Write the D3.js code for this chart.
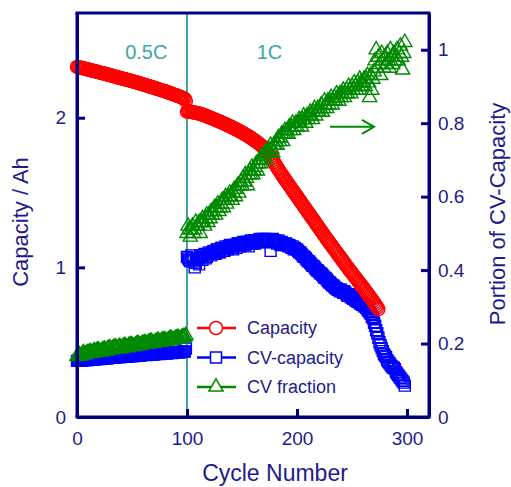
<!DOCTYPE html>
<html><head><meta charset="utf-8">
<script src="https://cdn.jsdelivr.net/npm/d3@7"></script>
<style>
html,body{margin:0;padding:0;background:#fff;}
svg{display:block;font-family:"Liberation Sans",Arial,sans-serif;}
</style></head>
<body>
<svg id="chart" width="511" height="487"></svg>
<script>
// ---------------- data ----------------
const cycles05 = d3.range(0, 100);       // 0.5C cycles 0..99
const cycles1 = d3.range(100, 299);      // 1C cycles 100..298
const capCycles1 = d3.range(100, 275);   // 1C cycles with capacity 100..274

const capacity05 = [
 2.340,2.338,2.336,2.335,2.334,2.331,2.329,2.328,2.327,2.324,
 2.322,2.321,2.319,2.316,2.314,2.313,2.312,2.309,2.307,2.306,
 2.304,2.301,2.299,2.298,2.297,2.294,2.292,2.290,2.289,2.286,
 2.284,2.283,2.281,2.278,2.276,2.275,2.273,2.270,2.268,2.267,
 2.265,2.262,2.260,2.259,2.257,2.254,2.252,2.251,2.249,2.246,
 2.244,2.243,2.241,2.238,2.236,2.234,2.232,2.229,2.227,2.225,
 2.223,2.220,2.218,2.216,2.214,2.211,2.209,2.207,2.205,2.202,
 2.200,2.198,2.196,2.193,2.191,2.188,2.186,2.183,2.181,2.179,
 2.177,2.174,2.172,2.169,2.166,2.164,2.161,2.158,2.156,2.153,
 2.150,2.148,2.145,2.142,2.139,2.136,2.133,2.130,2.126,2.112];
const capacity1 = [
 2.040,2.043,2.045,2.041,2.038,2.037,2.036,2.034,2.033,2.031,
 2.030,2.028,2.026,2.023,2.021,2.018,2.016,2.013,2.010,2.006,
 2.003,2.001,1.998,1.995,1.992,1.989,1.986,1.982,1.979,1.976,
 1.973,1.970,1.967,1.963,1.960,1.957,1.953,1.950,1.946,1.943,
 1.940,1.936,1.932,1.929,1.925,1.921,1.917,1.914,1.910,1.905,
 1.901,1.897,1.893,1.888,1.884,1.880,1.875,1.871,1.866,1.861,
 1.856,1.851,1.846,1.841,1.835,1.829,1.823,1.818,1.812,1.805,
 1.798,1.790,1.782,1.772,1.762,1.751,1.740,1.728,1.716,1.704,
 1.692,1.680,1.668,1.657,1.645,1.634,1.622,1.611,1.600,1.590,
 1.579,1.569,1.558,1.548,1.537,1.527,1.516,1.506,1.495,1.485,
 1.474,1.464,1.453,1.443,1.432,1.422,1.411,1.401,1.390,1.380,
 1.369,1.359,1.348,1.338,1.327,1.317,1.306,1.296,1.285,1.275,
 1.264,1.254,1.243,1.233,1.222,1.212,1.201,1.191,1.181,1.171,
 1.160,1.150,1.140,1.130,1.120,1.110,1.100,1.090,1.080,1.070,
 1.060,1.050,1.040,1.030,1.020,1.010,1.000,0.990,0.980,0.971,
 0.961,0.952,0.942,0.933,0.923,0.914,0.904,0.895,0.885,0.876,
 0.866,0.856,0.846,0.836,0.826,0.816,0.806,0.796,0.786,0.776,
 0.765,0.754,0.743,0.732,0.720];

const cvCap05 = [
 0.375,0.377,0.378,0.376,0.376,0.379,0.380,0.381,0.382,0.380,
 0.381,0.383,0.384,0.385,0.386,0.384,0.385,0.387,0.388,0.389,
 0.390,0.388,0.389,0.391,0.392,0.393,0.394,0.392,0.393,0.395,
 0.396,0.397,0.398,0.396,0.397,0.399,0.400,0.401,0.402,0.400,
 0.401,0.403,0.404,0.405,0.405,0.403,0.404,0.406,0.407,0.408,
 0.409,0.407,0.408,0.410,0.411,0.412,0.413,0.411,0.412,0.414,
 0.415,0.416,0.416,0.414,0.415,0.417,0.418,0.419,0.420,0.418,
 0.419,0.421,0.422,0.423,0.423,0.421,0.422,0.424,0.425,0.426,
 0.427,0.425,0.426,0.428,0.429,0.430,0.430,0.428,0.429,0.431,
 0.432,0.433,0.434,0.432,0.433,0.435,0.436,0.437,0.438,0.458];
const cvCap1 = [
 1.07,1.06,1.05,1.04,1.08,1.06,1.04,1.00,1.03,1.06,
 1.06,1.02,1.08,1.07,1.05,1.08,1.09,1.06,1.07,1.09,
 1.10,1.09,1.08,1.10,1.11,1.09,1.09,1.12,1.12,1.10,
 1.10,1.13,1.13,1.11,1.11,1.14,1.13,1.12,1.14,1.15,
 1.14,1.13,1.12,1.15,1.15,1.13,1.16,1.16,1.14,1.15,
 1.16,1.17,1.16,1.15,1.17,1.17,1.14,1.16,1.18,1.16,
 1.17,1.18,1.16,1.18,1.18,1.17,1.19,1.17,1.18,1.19,
 1.17,1.18,1.19,1.18,1.17,1.18,1.11,1.18,1.19,1.17,
 1.18,1.17,1.16,1.18,1.17,1.15,1.17,1.16,1.16,1.15,
 1.16,1.15,1.14,1.15,1.14,1.13,1.14,1.12,1.13,1.12,
 1.12,1.11,1.10,1.10,1.09,1.08,1.07,1.07,1.06,1.05,
 1.04,1.04,1.03,1.02,1.01,1.01,1.00,0.99,0.98,0.98,
 0.97,0.96,0.96,0.95,0.94,0.93,0.93,0.92,0.91,0.90,
 0.90,0.89,0.88,0.88,0.87,0.86,0.86,0.85,0.85,0.84,
 0.85,0.84,0.83,0.84,0.83,0.82,0.81,0.82,0.81,0.80,
 0.80,0.79,0.79,0.78,0.78,0.77,0.77,0.76,0.76,0.75,
 0.75,0.74,0.74,0.73,0.72,0.71,0.70,0.69,0.67,0.66,
 0.63,0.61,0.58,0.56,0.53,0.50,0.48,0.46,0.44,0.42,
 0.41,0.40,0.38,0.37,0.36,0.35,0.34,0.33,0.33,0.32,
 0.30,0.29,0.28,0.27,0.26,0.25,0.24,0.23,0.21];

const cvFrac05 = [
 0.165,0.168,0.170,0.166,0.168,0.172,0.175,0.170,0.171,0.174,
 0.176,0.173,0.178,0.175,0.174,0.179,0.180,0.176,0.181,0.183,
 0.181,0.177,0.178,0.182,0.183,0.185,0.181,0.180,0.186,0.187,
 0.188,0.183,0.184,0.189,0.189,0.191,0.187,0.186,0.190,0.192,
 0.186,0.189,0.192,0.194,0.193,0.190,0.189,0.194,0.195,0.197,
 0.196,0.192,0.192,0.196,0.198,0.199,0.199,0.195,0.195,0.199,
 0.200,0.202,0.202,0.199,0.198,0.203,0.204,0.206,0.205,0.201,
 0.200,0.204,0.206,0.208,0.208,0.204,0.204,0.208,0.209,0.210,
 0.210,0.207,0.206,0.210,0.212,0.214,0.213,0.209,0.209,0.213,
 0.214,0.216,0.216,0.212,0.213,0.216,0.217,0.219,0.218,0.222];
const cvFrac1 = [
 0.50,0.52,0.51,0.49,0.51,0.52,0.50,0.51,0.53,0.52,
 0.52,0.53,0.50,0.53,0.54,0.53,0.52,0.54,0.55,0.53,
 0.55,0.54,0.56,0.55,0.56,0.57,0.55,0.57,0.58,0.56,
 0.57,0.58,0.59,0.57,0.59,0.60,0.58,0.59,0.60,0.61,
 0.60,0.59,0.61,0.62,0.60,0.62,0.63,0.61,0.63,0.64,
 0.63,0.65,0.64,0.66,0.65,0.63,0.66,0.67,0.66,0.68,
 0.66,0.67,0.68,0.69,0.67,0.69,0.70,0.69,0.71,0.70,
 0.71,0.72,0.70,0.72,0.73,0.72,0.74,0.73,0.72,0.74,
 0.74,0.75,0.74,0.76,0.75,0.76,0.77,0.75,0.77,0.78,
 0.77,0.78,0.77,0.79,0.78,0.79,0.80,0.78,0.79,0.80,
 0.79,0.80,0.81,0.80,0.79,0.81,0.82,0.81,0.80,0.82,
 0.81,0.82,0.83,0.82,0.81,0.83,0.84,0.82,0.83,0.84,
 0.83,0.84,0.85,0.83,0.84,0.86,0.85,0.84,0.86,0.85,
 0.86,0.87,0.85,0.86,0.87,0.86,0.88,0.87,0.86,0.88,
 0.87,0.88,0.89,0.87,0.88,0.89,0.88,0.90,0.89,0.88,
 0.90,0.89,0.91,0.90,0.89,0.91,0.90,0.92,0.91,0.90,
 0.91,0.92,0.90,0.92,0.93,0.91,0.87,0.93,0.89,0.92,
 0.94,0.97,1.00,0.95,0.98,0.96,0.93,0.99,0.97,0.95,
 0.98,0.96,0.99,0.97,0.95,1.00,0.98,0.96,0.99,0.97,
 0.98,1.00,0.97,0.99,1.01,0.98,0.945,0.99,1.02];

const xTicks = [0, 100, 200, 300];
const yLeftTicks = [0, 1, 2];
const yRightTicks = [0, 0.2, 0.4, 0.6, 0.8, 1];
const legendLabels = ["Capacity", "CV-capacity", "CV fraction"];
const rateLabels = [{text:"0.5C", cycle:63}, {text:"1C", cycle:175}];

// ---------------- layout ----------------
const svg = d3.select("#chart");
const L = 77, R = 429, T = 13, B = 417;
const x = d3.scaleLinear().domain([0, 320]).range([L, R]);
const yL = d3.scaleLinear().domain([0, 2.7]).range([B, T]);
const yR = d3.scaleLinear().domain([0, 1.1]).range([B, T]);

const AXIS = "#00007f", TXT = "#1c1c8c", TEAL = "#3aa6a6";
const RED = "#ff0000", BLUE = "#0000ff", GREEN = "#008a00";

// rate boundary line
svg.append("line").attr("x1", x(100)).attr("x2", x(100)).attr("y1", T).attr("y2", B)
  .attr("stroke", TEAL).attr("stroke-width", 2);

// rate labels
svg.selectAll("text.rate").data(rateLabels).join("text").attr("class","rate")
  .attr("x", d => x(d.cycle)).attr("y", yL(2.39)).attr("text-anchor","middle")
  .attr("font-size", 20).attr("fill", TEAL).text(d => d.text);

// ---------------- markers ----------------
const circ = d3.symbol().type(d3.symbolCircle).size(133)();
const sq = d3.symbol().type(d3.symbolSquare).size(121)();
const tri = d3.symbol().type(d3.symbolTriangle).size(88)();

function drawSeries(xs, vals, yScale, path, color) {
  const pts = vals.map((v, i) => [xs[i], v]).filter(p => p[0] !== undefined);
  svg.append("g").selectAll("path").data(pts).join("path")
    .attr("d", path)
    .attr("transform", d => `translate(${x(d[0])},${yScale(d[1])})`)
    .attr("fill", "none").attr("stroke", color).attr("stroke-width", 1.4);
}
drawSeries(cycles05, cvCap05, yL, sq, BLUE);
drawSeries(cycles1, cvCap1, yL, sq, BLUE);
drawSeries(cycles05, capacity05, yL, circ, RED);
drawSeries(capCycles1, capacity1, yL, circ, RED);
drawSeries(cycles05, cvFrac05, yR, tri, GREEN);
drawSeries(cycles1, cvFrac1, yR, tri, GREEN);

// arrow pointing to right axis
const ax0 = x(230), ax1 = x(270), ay = yR(0.79);
const ag = svg.append("g").attr("stroke", GREEN).attr("stroke-width", 2).attr("fill","none");
ag.append("line").attr("x1", ax0).attr("x2", ax1).attr("y1", ay).attr("y2", ay);
ag.append("path").attr("d", `M${ax1-12},${ay-7}L${ax1},${ay}L${ax1-12},${ay+7}`);

// ---------------- axes ----------------
function styleAxis(g) {
  g.select(".domain").attr("stroke", AXIS).attr("stroke-width", 3);
  g.selectAll(".tick line").attr("stroke", AXIS).attr("stroke-width", 3);
  g.selectAll(".tick text").attr("fill", TXT).attr("font-size", 19)
    .attr("font-family", '"Liberation Sans",Arial,sans-serif');
}
svg.append("g").attr("transform", `translate(${L},0)`)
  .call(d3.axisLeft(yL).tickValues(yLeftTicks).tickSizeInner(-8).tickSizeOuter(0).tickPadding(11).tickFormat(d3.format("~g")))
  .call(styleAxis);
svg.append("g").attr("transform", `translate(${R},0)`)
  .call(d3.axisRight(yR).tickValues(yRightTicks).tickSizeInner(-8).tickSizeOuter(0).tickPadding(9).tickFormat(d3.format("~g")))
  .call(styleAxis);
svg.append("g").attr("transform", `translate(0,${B})`)
  .call(d3.axisBottom(x).tickValues(xTicks).tickSizeInner(-8).tickSizeOuter(0).tickPadding(15))
  .call(styleAxis);
svg.append("line").attr("x1", L - 1.5).attr("x2", R + 1.5).attr("y1", T).attr("y2", T)
  .attr("stroke", AXIS).attr("stroke-width", 3);
svg.append("line").attr("x1", L).attr("x2", L).attr("y1", T).attr("y2", B).attr("stroke", AXIS).attr("stroke-width", 3);
svg.append("line").attr("x1", R).attr("x2", R).attr("y1", T).attr("y2", B).attr("stroke", AXIS).attr("stroke-width", 3);
svg.append("line").attr("x1", L - 1.5).attr("x2", R + 1.5).attr("y1", B).attr("y2", B).attr("stroke", AXIS).attr("stroke-width", 3);

// axis titles
svg.append("text").attr("transform", `translate(28,222) rotate(-90)`).attr("text-anchor","middle")
  .attr("font-size", 22).attr("fill", TXT).text("Capacity / Ah");
svg.append("text").attr("transform", `translate(505,214) rotate(-90)`).attr("text-anchor","middle")
  .attr("font-size", 22).attr("fill", TXT).text("Portion of CV-Capacity");
svg.append("text").attr("x", 275).attr("y", 481).attr("text-anchor","middle")
  .attr("font-size", 23).attr("fill", TXT).text("Cycle Number");

// ---------------- legend ----------------
const legendColors = [RED, BLUE, GREEN];
const legendShapes = [circ, sq, tri];
const lg = svg.append("g");
legendLabels.forEach((lab, i) => {
  const yy = 328 + i * 29.5;
  lg.append("line").attr("x1", 197).attr("x2", 236).attr("y1", yy).attr("y2", yy)
    .attr("stroke", legendColors[i]).attr("stroke-width", 2.5);
  lg.append("path").attr("d", legendShapes[i]).attr("transform", `translate(216,${yy})`)
    .attr("fill", "#fff").attr("stroke", legendColors[i]).attr("stroke-width", 1.5);
  lg.append("text").attr("x", 247).attr("y", yy).attr("dy", "0.35em")
    .attr("font-size", 18).attr("fill", TXT).text(lab);
});
</script>
</body></html>
